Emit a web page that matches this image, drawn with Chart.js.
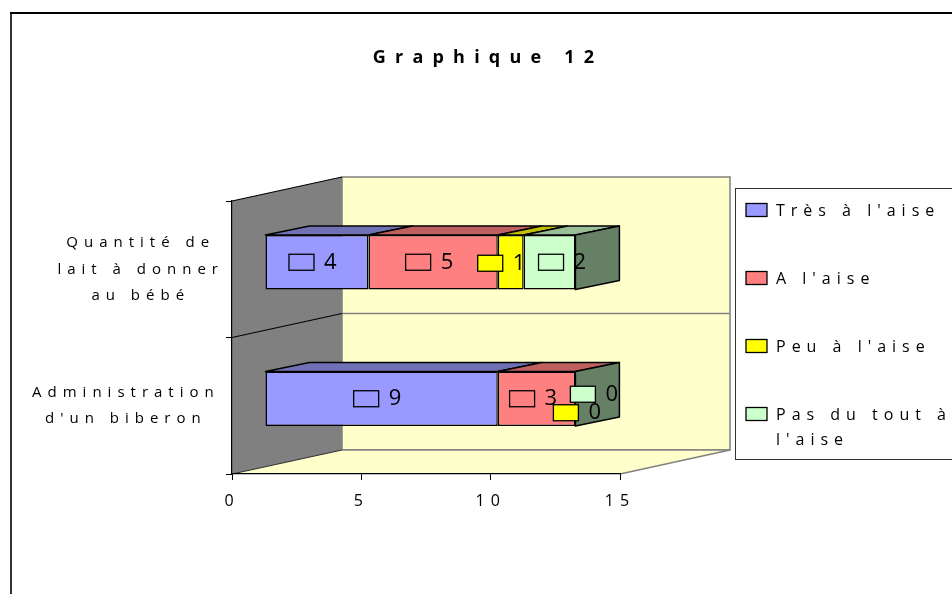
<!DOCTYPE html>
<html>
<head>
<meta charset="utf-8">
<style>
  html, body { margin: 0; padding: 0; background: #fff; overflow: hidden; }
  canvas { display: block; }
</style>
<script src="https://cdn.jsdelivr.net/npm/chart.js@4/dist/chart.umd.min.js"></script>
</head>
<body>
<canvas id="graphique" width="952" height="594"></canvas>
<script>
// values
const categories = [
  ['   Quantité de', '   lait à donner', '   au bébé'],
  ['Administration', "d'un biberon"]
];
const tresAlaise = [4, 9];
const aLaise = [5, 3];
const peuAlaise = [1, 0];
const pasDuToutAlaise = [2, 0];
const seriesNames = ["Très à l'aise", "A l'aise", "Peu à l'aise", ["Pas du tout à", "l'aise"]];
const tickStep = 5;
const axisMax = 15;

// colours
const fronts = ['#9999FF', '#FF8080', '#FFFF00', '#CCFFCC'];
const tops = ['#7070B5', '#BF6060', '#BFBF00', '#99BF99'];
const sideColor = '#668066';
const labelFont = '"Open Sans", sans-serif';
const spacing = '6px';
const titleSpacing = '9.2px';

// the bars sit forward of the axis, as in a 3D bar chart
const barShift = { x: 33, y: -7 };
const barDepth = { x: 44, y: -9 };
const wallDepth = { x: 110, y: -24 };
// where each value label was placed, relative to the middle of its bar
const labelDx = [[-28, -28], [-27.5, -27], [-33, -22], [-11, -5]];
const labelDy = [[0, 0], [0, 0], [1, 14], [0, -4.5]];

function poly(ctx, pts, fill, stroke) {
  ctx.beginPath();
  pts.forEach((p, i) => i ? ctx.lineTo(p[0], p[1]) : ctx.moveTo(p[0], p[1]));
  ctx.closePath();
  if (fill) { ctx.fillStyle = fill; ctx.fill(); }
  if (stroke) { ctx.strokeStyle = stroke; ctx.stroke(); }
}

function line(ctx, x1, y1, x2, y2, color, width) {
  ctx.beginPath();
  ctx.moveTo(x1, y1);
  ctx.lineTo(x2, y2);
  ctx.strokeStyle = color;
  ctx.lineWidth = width;
  ctx.stroke();
}

const decor = {
  id: 'decor',
  beforeUpdate(chart) {
    // tick labels have to be measured with the same spacing they are drawn with
    chart.ctx.letterSpacing = spacing;
  },
  afterLayout(chart) {
    // center the title over the whole picture, not the plot
    const block = chart.titleBlock;
    const drawTitle = block.draw;
    block.left = 24;
    block.right = 952;
    block.draw = function () {
      chart.ctx.letterSpacing = titleSpacing;
      drawTitle.call(block);
      chart.ctx.letterSpacing = spacing;
    };
  },
  beforeDraw(chart) {
    const ctx = chart.ctx;
    const { left, right, top, bottom } = chart.chartArea;
    const dx = wallDepth.x, dy = wallDepth.y;
    const middle = (chart.scales.y.getPixelForValue(0) + chart.scales.y.getPixelForValue(1)) / 2;

    ctx.save();
    // outer frame
    line(ctx, 11, 594, 11, 13, '#333', 2);
    line(ctx, 10, 13, 952, 13, '#000', 2);
    // back wall and floor
    ctx.lineWidth = 1.5;
    poly(ctx, [[left + dx, top + dy], [right + dx, top + dy], [right + dx, bottom + dy], [left + dx, bottom + dy]], '#FFFFCC', '#808080');
    poly(ctx, [[left, bottom], [left + dx, bottom + dy], [right + dx, bottom + dy], [right, bottom]], '#FFFFCC');
    line(ctx, left + dx, bottom + dy, right + dx, bottom + dy, '#808080', 1.5);
    line(ctx, right + dx, bottom + dy, right, bottom, '#808080', 1.5);
    line(ctx, left + dx, middle + dy, right + dx, middle + dy, '#808080', 1.5);
    // side wall
    poly(ctx, [[left, top], [left + dx, top + dy], [left + dx, bottom + dy], [left, bottom]], '#808080');
    line(ctx, left, top, left + dx, top + dy, '#000', 1.2);
    line(ctx, left, middle, left + dx, middle + dy, '#000', 1.2);
    line(ctx, left, bottom, left + dx, bottom + dy, '#333', 1.2);
    ctx.restore();
  },
  beforeDatasetsDraw(chart) {
    const ctx = chart.ctx;
    ctx.save();
    ctx.translate(barShift.x, barShift.y);
    ctx.lineWidth = 1.5;
    ctx.lineJoin = 'round';
    chart.data.datasets.forEach((ds, s) => {
      chart.getDatasetMeta(s).data.forEach(bar => {
        const y0 = bar.y - bar.height / 2;
        const y1 = bar.y + bar.height / 2;
        if (bar.x > bar.base) {
          poly(ctx, [[bar.base, y0], [bar.base + barDepth.x, y0 + barDepth.y], [bar.x + barDepth.x, y0 + barDepth.y], [bar.x, y0]], tops[s], '#000');
        }
        if (s === chart.data.datasets.length - 1) {
          poly(ctx, [[bar.x, y0], [bar.x + barDepth.x, y0 + barDepth.y], [bar.x + barDepth.x, y1 + barDepth.y], [bar.x, y1]], sideColor, '#000');
        }
      });
    });
  },
  afterDatasetsDraw(chart) {
    const ctx = chart.ctx;
    ctx.restore();

    // value labels with their legend key
    ctx.save();
    ctx.letterSpacing = '0px';
    ctx.textBaseline = 'middle';
    ctx.textAlign = 'left';
    ctx.font = '22px ' + labelFont;
    ctx.lineWidth = 1.3;
    chart.data.datasets.forEach((ds, s) => {
      chart.getDatasetMeta(s).data.forEach((bar, i) => {
        const x = (bar.x + bar.base) / 2 + barShift.x + labelDx[s][i];
        const y = bar.y + barShift.y + labelDy[s][i];
        ctx.fillStyle = fronts[s];
        ctx.fillRect(x, y - 8, 25, 16);
        ctx.strokeStyle = '#000';
        ctx.strokeRect(x, y - 8, 25, 16);
        ctx.fillStyle = '#000';
        ctx.fillText(String(ds.data[i]), x + 35, y);
      });
    });

    // legend
    ctx.fillStyle = '#fff';
    ctx.fillRect(736, 188, 230, 272);
    ctx.strokeStyle = '#333';
    ctx.lineWidth = 1;
    ctx.strokeRect(735.5, 188.5, 230, 271);
    ctx.font = '16px ' + labelFont;
    ctx.letterSpacing = spacing;
    seriesNames.forEach((name, s) => {
      const y = 210 + s * 68;
      ctx.fillStyle = fronts[s];
      ctx.fillRect(746, y - 6.5, 21, 13);
      ctx.lineWidth = 1.3;
      ctx.strokeStyle = '#000';
      ctx.strokeRect(746, y - 6.5, 21, 13);
      ctx.fillStyle = '#000';
      [].concat(name).forEach((txt, k) => ctx.fillText(txt, 776, y + 1 + k * 25));
    });
    ctx.restore();
  }
};

new Chart(document.getElementById('graphique'), {
  type: 'bar',
  plugins: [decor],
  data: {
    labels: categories,
    datasets: [
      { label: seriesNames[0], data: tresAlaise },
      { label: seriesNames[1], data: aLaise },
      { label: seriesNames[2], data: peuAlaise },
      { label: "Pas du tout à l'aise", data: pasDuToutAlaise }
    ].map((ds, s) => Object.assign(ds, {
      backgroundColor: fronts[s],
      borderColor: '#000',
      borderWidth: 1.5,
      borderSkipped: false,
      barPercentage: 0.4,
      categoryPercentage: 1,
      clip: false
    }))
  },
  options: {
    responsive: false,
    animation: false,
    indexAxis: 'y',
    events: [],
    layout: { padding: { left: 0, top: 0, right: 332, bottom: 0 } },
    plugins: {
      legend: { display: false },
      tooltip: { enabled: false },
      title: {
        display: true,
        text: 'Graphique 12',
        color: '#000',
        font: { family: labelFont, size: 18, weight: 'bold', lineHeight: '20px' },
        padding: { top: 48, bottom: 133 }
      }
    },
    scales: {
      x: {
        stacked: true,
        min: 0,
        max: axisMax,
        afterFit(axis) { axis.height = 120; },
        grid: { drawOnChartArea: false, tickLength: 6, tickColor: '#000' },
        border: { color: '#000', width: 1.2 },
        ticks: {
          stepSize: tickStep,
          maxRotation: 0,
          padding: 12,
          color: '#000',
          font: { family: labelFont, size: 16 }
        }
      },
      y: {
        stacked: true,
        afterFit(axis) { axis.width = 232; },
        grid: { drawOnChartArea: false, tickLength: 6, tickColor: '#000' },
        border: { color: '#000', width: 1.2 },
        ticks: {
          crossAlign: 'center',
          padding: 2,
          color: '#000',
          font: { family: labelFont, size: 15, lineHeight: 1.77 }
        }
      }
    }
  }
});
</script>
</body>
</html>
